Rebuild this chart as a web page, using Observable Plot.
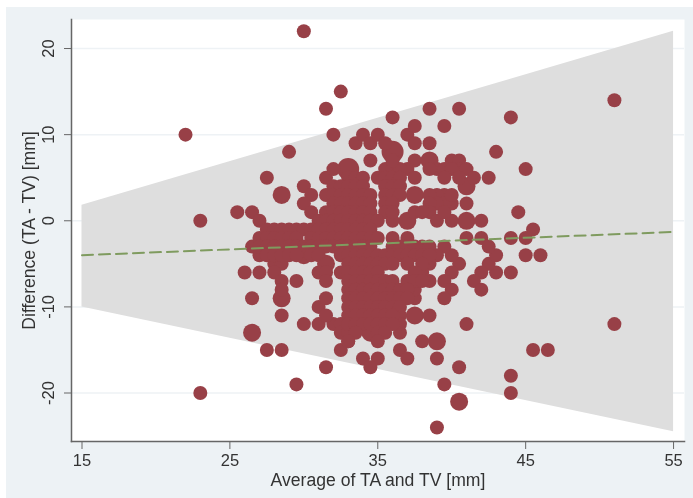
<!DOCTYPE html>
<html><head><meta charset="utf-8">
<script src="https://cdn.jsdelivr.net/npm/d3@7"></script>
<script src="https://cdn.jsdelivr.net/npm/@observablehq/plot@0.6"></script>
<style>
html,body{margin:0;padding:0;background:#fff}
#c{position:absolute;left:6px;top:7px;width:687px;height:491px}
svg{background:#edf2f5 !important;display:block;filter:blur(0.45px)}
</style></head><body><div id="c"></div>
<script>
const xTicks=[15,25,35,45,55];
const yTicks=[-20,-10,0,10,20];
const bandAvg=[15,55];
const bandUpper=[1.8,22];
const bandLower=[-10,-24.5];
const meanLine=[-4,-1.3];
const singles=[
[30,22],[22,10],[23,0],[25.5,1],[26.5,1],[27,0],[27.5,5],[29,8],[30,4],[30.5,3],[30,2],[30.5,1],[31.5,5],[32,6],[32,10],[31.5,13],[32.5,15],
[33.5,9],[34,10],[34.5,9],[35,10],[35.5,9],[36,12],[37,10],[37.5,11],[37.5,9],[38.5,9],[38.5,13],[39.5,11],[40.5,13],[44,12],[43,8],[45,6],[51,14],[34.5,7],
[37.5,7],[37,6],[37.5,5],[39,6],[39.5,6],[40,7],[40.5,7],[40.5,6],[40,6],[41,6],[41.5,5],[42.5,5],[41,2],[39.5,5],[40.5,5],[38.5,6],
[39.5,3],[39,3],[38.5,3],[40,2],[39.5,2],[39,2],[38.5,2],[40,3],[38.5,1],[37.5,1],[36,0],[39,0],[40,0],[42,0],[38,1],[39.5,1],
[41,-2],[42,-2],[44,-2],[45,-2],[45.5,-1],[44.5,1],[36,-2],[37,-2],
[45,-4],[46,-4],[44,-6],[43,-6],[42.5,-5],[42,-6],[43,-4],[42.5,-3],[40.5,-5],[40,-4],[40,-6],[39.5,-7],[40,-8],[39.5,-9],[41.5,-7],[42,-8],[38.5,-7],[37.5,-9],[38.5,-11],[41,-12],[51,-12],[39.5,-3],[39,-4],
[38,-14],[36.5,-13],[36.5,-15],[37,-16],[39,-16],[40.5,-17],[39.5,-19],[39,-24],[44,-18],[44,-20],[45.5,-15],[46.5,-15],[34,-16],[35,-16],[34.5,-17],
[26,-6],[27,-6],[26.5,-9],[29.5,-7],[28.5,-11],[27.5,-15],[28.5,-15],[31.5,-17],[29.5,-19],[23,-20],[30,-12],[31,-12],[32,-12],[31,-10],[31.5,-9],[31.5,-11],[32.5,-15],[33,-14],
[26.5,-3],[27,-4],[27,-2],[28,-5],[28.5,-5],[28,-6],[28.5,-7],[28.5,-8],[36.5,-11],[36.5,-12],
[35.5,6],[36,6],[36.5,6],[36,7],[38.5,-5],[38,-6],[37,-7],[37.5,-8],[32.5,-12],[32.5,-13],[33,-13]
];
const coreRows=[
[5,[33,33.5,34,35,35.5,36,36.5]],
[4,[32,32.5,33,33.5,34,35.5,36,36.5]],
[3,[31.5,32,32.5,33,33.5,34,34.5,35.5,36,36.5]],
[2,[32,32.5,33,33.5,34,34.5,35.5,36]],
[1,[31.5,32,32.5,33,33.5,34,34.5,35.5,36]],
[0,[31,31.5,32,32.5,33,33.5,34,34.5,35]],
[-1,[27.5,28,28.5,29,29.5,30,30.5,31,31.5,32,32.5,33,33.5,34,34.5]],
[-2,[27.5,28,28.5,29,29.5,30.5,31,31.5,32,32.5,33,33.5,34,34.5,35]],
[-3,[27,27.5,28,28.5,29,29.5,30,30.5,31,31.5,32,32.5,33,33.5,34,34.5,36,36.5,37,37.5,38,38.5]],
[-4,[27.5,28,28.5,29,29.5,30.5,31,32.5,33,33.5,34,34.5,35,35.5,36,36.5,37,37.5,38,38.5]],
[-5,[31.5,33,33.5,34,34.5,35,35.5,36,37,38]],
[-6,[31,31.5,32.5,33,33.5,34,34.5,35,37.5]],
[-7,[31.5,33,33.5,34,34.5,35,35.5,36,37.5,38]],
[-8,[33,33.5,34,34.5,35,35.5,36,36.5,37]],
[-9,[33,33.5,34,34.5,35,35.5,36,36.5,37]],
[-10,[33,33.5,34,34.5,35,35.5,36,36.5]],
[-11,[33,33.5,34,34.5,35,35.5,36]],
[-12,[33,33.5,34,34.5,35,35.5,36]],
[-13,[33.5,35,35.5]],
[-14,[33,35]]
];
const doubles=[[28.5,3],[38.5,7],[41,4],[37.5,3],[37,0],[41,0],[28.5,-9],[26.5,-13],[30,-4],[31.5,-5],[37.5,-11],[39,-14],[34.5,-13],[40.5,-21]];
const triples=[[33,6],[36,8]];
const dots=[
 ...singles.map(([x,y])=>({x,y,n:1})),
 ...coreRows.flatMap(([y,xs])=>xs.map(x=>({x,y,n:1}))),
 ...doubles.map(([x,y])=>({x,y,n:2})),
 ...triples.map(([x,y])=>({x,y,n:3}))
];
const band=bandAvg.map((x,i)=>({x,hi:bandUpper[i],lo:bandLower[i],m:meanLine[i]}));
const font='"Liberation Sans",Arial,sans-serif';
const chart=Plot.plot({
 width:687,height:491,marginLeft:65,marginRight:9,marginTop:12,marginBottom:57,
 style:{fontFamily:font,background:"#edf2f5",color:"#333"},
 x:{domain:[14.29,55.74]},
 y:{domain:[-25.63,23.37]},
 r:{type:"linear",domain:[1,3],range:[7,11]},
 marks:[
  Plot.frame({fill:"#fff",stroke:"none"}),
  Plot.ruleY(yTicks,{stroke:"#eef2f5",strokeWidth:1.5}),
  Plot.areaY(band,{x:"x",y1:"lo",y2:"hi",fill:"#dedede"}),
  Plot.dot(dots,{x:"x",y:"y",r:"n",fill:"#984047",stroke:"none"}),
  Plot.lineY(band,{x:"x",y:"m",stroke:"#7f9b5f",strokeWidth:2,strokeDasharray:"11 6"}),
  Plot.frame({anchor:"left",stroke:"#666",strokeWidth:1.5}),
  Plot.frame({anchor:"bottom",stroke:"#666",strokeWidth:1.5}),
  Plot.axisX({ticks:xTicks,tickSize:8,tickPadding:5,fontSize:16.5,stroke:"#666",color:"#333",tickFormat:String,label:null}),
  Plot.axisY({ticks:yTicks,tickSize:7,tickPadding:11,fontSize:16.5,stroke:"#666",color:"#333",tickFormat:String,tickRotate:-90,label:null}),
  Plot.axisX({ticks:[],tickSize:0,fontSize:17.6,color:"#333",label:"Average of TA and TV [mm]",labelAnchor:"center",labelArrow:"none",labelOffset:44}),
  Plot.axisY({ticks:[],tickSize:0,fontSize:17.6,color:"#333",label:"Difference (TA - TV) [mm]",labelAnchor:"center",labelArrow:"none",labelOffset:49})
 ]
});
document.getElementById("c").append(chart);
</script></body></html>
